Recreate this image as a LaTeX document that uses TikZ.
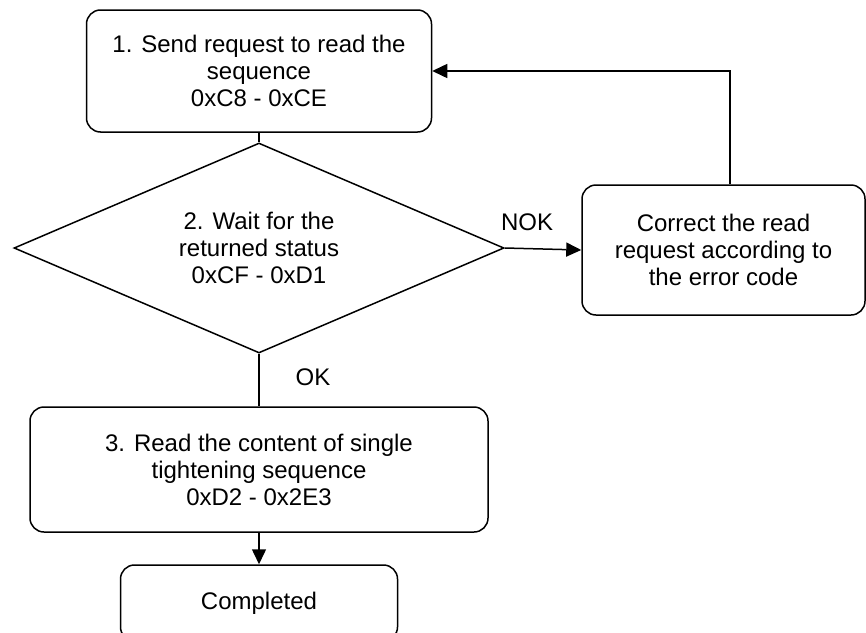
\documentclass[tikz,border=0pt]{standalone}
\usepackage{fontspec}
\setmainfont{Liberation Sans}
\usetikzlibrary{positioning,arrows.meta,shapes.geometric}
\tikzset{
  fc/.style={font=\fontsize{24}{27}\selectfont, text=black},
  fcbox/.style={
    fc, draw=black, line width=1.5pt, rounded corners=14pt,
    align=center, inner sep=0pt
  },
  fcdec/.style={
    fc, draw=black, line width=1.5pt, diamond, aspect=2.33,
    align=center, inner sep=0pt
  },
  fcline/.style={line width=1.5pt, draw=black},
  fcarr/.style={fcline, -{Triangle[length=15pt,width=14pt]}},
  fclbl/.style={fc, inner sep=0pt},
}

\begin{document}
\begin{tikzpicture}[fc, x=1pt, y=-1pt]
    \useasboundingbox (0,0) rectangle (866,632);

    % Schritte (Mitte)
    \node[fcbox, minimum width=345pt, minimum height=122pt] (send) at (259,71)
      {1. Send request to read the\\sequence\\0xC8 - 0xCE};
    \node[fcdec, minimum width=490pt, minimum height=210pt] (wait) at (259,248)
      {2. Wait for the\\returned status\\0xCF - 0xD1};
    \node[fcbox, minimum width=458pt, minimum height=125pt] (read) at (259,469.5)
      {3. Read the content of single\\tightening sequence\\0xD2 - 0x2E3};
    \node[fcbox, minimum width=277pt, minimum height=76pt] (done) at (259,603)
      {Completed};

    % Fehlerzweig (rechts)
    \node[fcbox, minimum width=283pt, minimum height=130pt] (fix) at (723.5,250)
      {Correct the read\\request according to\\the error code};

    % Verbindungen
    \draw[fcline] (send.south) -- (wait.north);
    \draw[fcarr] (wait.east) -- (fix.west);
    \node[fclbl] at (527,222) {NOK};
    \draw[fcline] (wait.south) -- (read.north);
    \node[fclbl] at (313,377) {OK};
    \draw[fcarr] (read.south) -- (done.north);
    \draw[fcarr] ([xshift=6.5pt]fix.north) |- (send.east);
  \end{tikzpicture}
\end{document}
